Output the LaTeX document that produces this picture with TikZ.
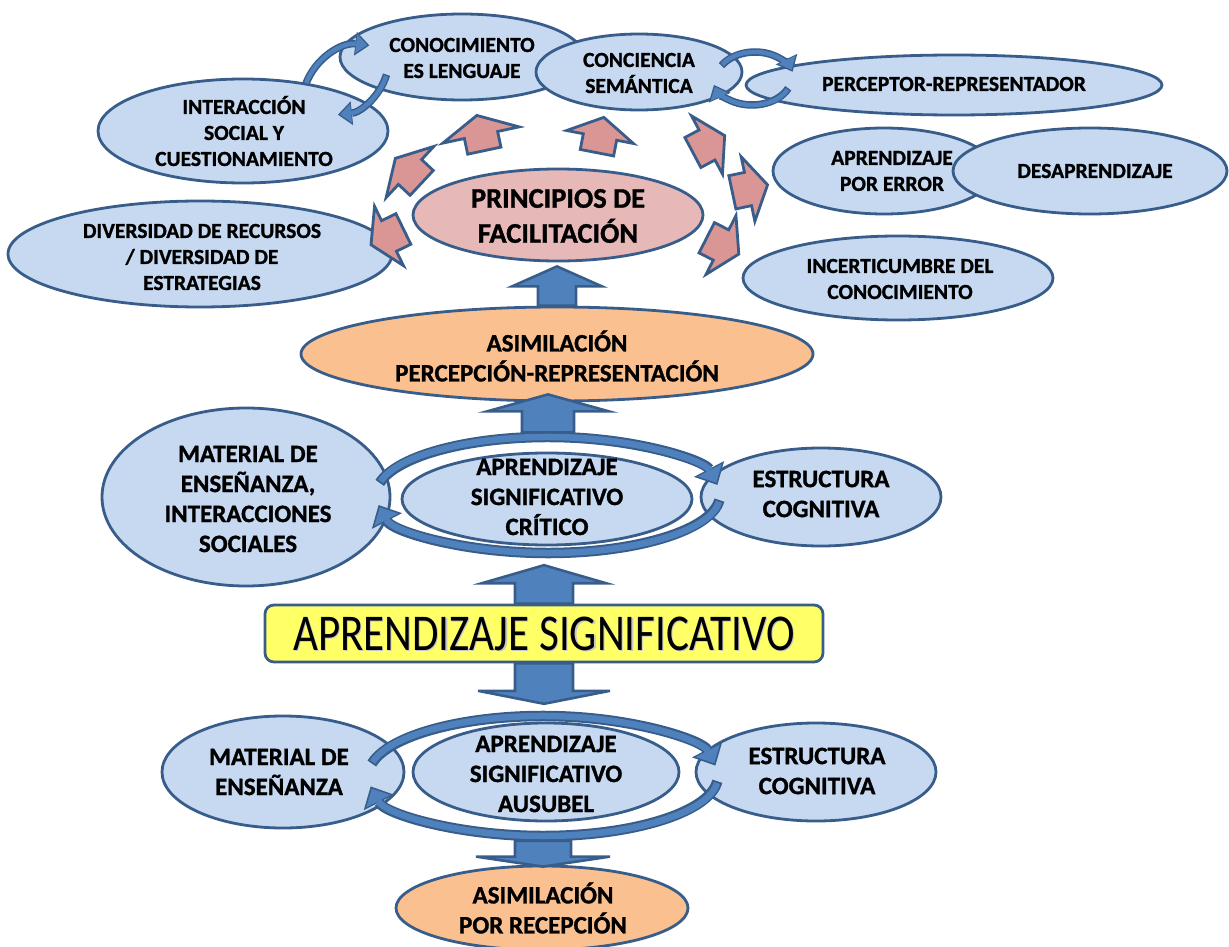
\documentclass[tikz,border=0pt]{standalone}
\usepackage{fontspec}
\setmainfont{Carlito}[BoldFeatures={FakeBold=1.2}]
\usetikzlibrary{shapes.geometric,arrows.meta,calc}

\definecolor{bline}{RGB}{56,93,138}
\definecolor{bfill}{RGB}{198,217,241}
\definecolor{ofill}{RGB}{250,192,144}
\definecolor{pfill}{RGB}{230,185,184}
\definecolor{parr}{RGB}{217,150,148}
\definecolor{yfill}{RGB}{255,255,102}
\definecolor{barr}{RGB}{79,129,189}

% ribbon-style curved arrows: dark outer stroke, lighter inner stroke
\newcommand\ribbonL[1]{%
  \draw[draw=bline,line width=10.5pt,-{Triangle[length=18pt,width=34pt,line width=0pt]}] #1;
  \draw[draw=barr,line width=6.5pt,shorten >=2.6pt,shorten <=1.8pt,-{Triangle[length=14pt,width=27pt,line width=0pt]}] #1;}
\newcommand\ribbonS[1]{%
  \draw[draw=bline,line width=7.5pt,-{Triangle[length=14pt,width=24pt,line width=0pt]}] #1;
  \draw[draw=barr,line width=4.4pt,shorten >=2.2pt,shorten <=1.5pt,-{Triangle[length=11pt,width=19pt,line width=0pt]}] #1;}

% block arrows between two nodes: shaft half width, head half width, head length, tip offset
\newcommand\blkup[6]{%
  \draw[blkarr] let \p1=(#1.north), \p2=(#2.south), \n1={\y2+(#6)}, \n2={\y2+(#6)-#5} in
    ({\x1-#3},\y1) -- ({\x1-#3},\n2) -- ({\x1-#4},\n2) -- (\x1,\n1)
    -- ({\x1+#4},\n2) -- ({\x1+#3},\n2) -- ({\x1+#3},\y1) -- cycle;}
\newcommand\blkdown[6]{%
  \draw[blkarr] let \p1=(#1.south), \p2=(#2.north), \n1={\y2+(#6)}, \n2={\y2+(#6)+#5} in
    ({\x1-#3},\y1) -- ({\x1-#3},\n2) -- ({\x1-#4},\n2) -- (\x1,\n1)
    -- ({\x1+#4},\n2) -- ({\x1+#3},\n2) -- ({\x1+#3},\y1) -- cycle;}

\begin{document}
\begin{tikzpicture}[x=1pt,y=-1pt,
  bub/.style={ellipse,draw=bline,line width=2.8pt,fill=bfill,inner sep=0pt},
  obub/.style={bub,fill=ofill},
  pbub/.style={bub,fill=pfill},
  stxt/.style={align=center,inner sep=0pt,font=\fontsize{21.5}{26}\selectfont\bfseries},
  btxt/.style={align=center,inner sep=0pt,font=\fontsize{25}{30}\selectfont\bfseries},
  ptxt/.style={align=center,inner sep=0pt,font=\fontsize{28.5}{35}\selectfont\bfseries},
  ring/.style={ellipse,inner sep=0pt},
  blkarr/.style={draw=bline,line width=2.6pt,fill=barr,line join=miter},
  pinkline/.style={draw=bline,line width=2.8pt,fill=parr,line join=miter},
  pics/pinkarrow/.style={code={%
    \draw[pinkline] (-16,-17) -- (0,-17) -- (0,-#1) -- (20,0) -- (0,#1) -- (0,17) -- (-16,17) -- cycle;}}
]
\useasboundingbox (0,0) rectangle (1229,947);

% ---- principles of facilitation and their satellites ----
\node[bub,minimum width=244pt,minimum height=86pt] (conoc) at (462,57) {};
\node[stxt] at (462,58) {CONOCIMIENTO\\ES LENGUAJE};
\node[bub,minimum width=416pt,minimum height=60pt] (percep) at (954,85) {};
\node[stxt] at (954,84) {PERCEPTOR-REPRESENTADOR};
\node[bub,minimum width=206pt,minimum height=76pt] (conci) at (639,72) {};
\node[stxt] at (639,73) {CONCIENCIA\\SEMÁNTICA};
\node[bub,minimum width=290pt,minimum height=104pt] (inter) at (243,131) {};
\node[stxt] at (244,131) {INTERACCIÓN\\SOCIAL Y\\CUESTIONAMIENTO};
\node[bub,minimum width=384pt,minimum height=106pt] (diver) at (200,254) {};
\node[stxt] at (202,257) {DIVERSIDAD DE RECURSOS\\/ DIVERSIDAD DE\\ESTRATEGIAS};
\node[bub,minimum width=222pt,minimum height=86pt] (error) at (884,171) {};
\node[stxt] at (892,171) {APRENDIZAJE\\POR ERROR};
\node[bub,minimum width=274pt,minimum height=86pt] (desap) at (1090,171) {};
\node[stxt] at (1095,171) {DESAPRENDIZAJE};
\node[bub,minimum width=310pt,minimum height=84pt] (incert) at (898,278) {};
\node[stxt] at (900,279) {INCERTICUMBRE DEL\\CONOCIMIENTO};
\node[pbub,minimum width=290pt,minimum height=92pt] (princ) at (558,215) {};
\node[ptxt] at (558,216) {PRINCIPIOS DE\\FACILITACIÓN};

% curved exchange arrows at the top
\coordinate (cA) at (362,105);
\coordinate (cB) at (332,58);
\coordinate (cC) at (755,82);
\coordinate (cD) at (752,76);
\ribbonS{(cA) ++(200:60) arc[start angle=200,end angle=277,radius=60]}
\ribbonS{(cB) ++(17:57) arc[start angle=17,end angle=84,radius=57]}
\ribbonS{(cC) ++(213:40 and 30) arc[start angle=213,end angle=340,x radius=40,y radius=30]}
\ribbonS{(cD) ++(25:40 and 29) arc[start angle=25,end angle=162,x radius=40,y radius=29]}

% radiating arrows around the principles
\pic[rotate=206] at (389,236) {pinkarrow=33};
\pic[rotate=137] at (410,172) {pinkarrow=35};
\pic[rotate=102] at (481,135) {pinkarrow=39};
\pic[rotate=79]  at (600,137) {pinkarrow=34};
\pic[rotate=28]  at (707,145) {pinkarrow=33};
\pic[rotate=12]  at (748,189) {pinkarrow=33};
\pic[rotate=-27] at (721,245) {pinkarrow=33};

% ---- assimilation by perception-representation ----
\node[obub,minimum width=512pt,minimum height=94pt] (asimPR) at (557,354) {};
\node[btxt] at (557,356) {ASIMILACIÓN\\PERCEPCIÓN-REPRESENTACIÓN};
\blkup{asimPR}{princ}{19pt}{45pt}{20pt}{-4pt}

% ---- critical meaningful learning ----
\node[bub,minimum width=288pt,minimum height=178pt] (matA) at (246,497) {};
\node[btxt] at (248,499) {MATERIAL DE\\ENSEÑANZA,\\INTERACCIONES\\SOCIALES};
\node[bub,minimum width=240pt,minimum height=98pt] (estA) at (821,497) {};
\node[btxt] at (821,494) {ESTRUCTURA\\COGNITIVA};
\node[bub,minimum width=290pt,minimum height=92pt] (acs) at (547,499) {};
\node[btxt] at (547,497) {APRENDIZAJE\\SIGNIFICATIVO\\CRÍTICO};
\node[ring,minimum width=353pt,minimum height=125pt] (acsring) at (548,495) {};
\blkup{acsring}{asimPR}{26pt}{61pt}{17pt}{8pt}
\ribbonL{(acsring.center) ++(192:172 and 58) arc[start angle=192,end angle=350,x radius=172,y radius=58]}
\ribbonL{(acsring.center) ++(5:172 and 58) arc[start angle=5,end angle=170,x radius=172,y radius=58]}

% ---- meaningful learning ----
\node[draw=bline,line width=2.8pt,fill=yfill,rounded corners=9pt,minimum width=558pt,minimum height=57pt,inner sep=0pt] (box) at (544,633.5) {};
\node[inner sep=0pt,text=black!22,font=\fontsize{43}{50}\selectfont] at ($(box.center)+(1.2,1.2)$) {\scalebox{1}[1.2]{APRENDIZAJE SIGNIFICATIVO}};
\node[inner sep=0pt,font=\fontsize{43}{50}\selectfont] at (box.center) {\scalebox{1}[1.2]{APRENDIZAJE SIGNIFICATIVO}};
\blkup{box}{acsring}{29pt}{62pt}{18pt}{-7.5pt}

% ---- Ausubel's meaningful learning ----
\node[bub,minimum width=242pt,minimum height=112pt] (matB) at (283,772) {};
\node[btxt] at (279,772) {MATERIAL DE\\ENSEÑANZA};
\node[bub,minimum width=240pt,minimum height=98pt] (estB) at (816,772) {};
\node[btxt] at (817,771) {ESTRUCTURA\\COGNITIVA};
\node[bub,minimum width=266pt,minimum height=98pt] (aus) at (546,772) {};
\node[btxt] at (546,774) {APRENDIZAJE\\SIGNIFICATIVO\\AUSUBEL};
\node[ring,minimum width=359pt,minimum height=129pt] (ausring) at (543,776) {};
\blkdown{box}{ausring}{29pt}{66pt}{13pt}{7.5pt}
\ribbonL{(ausring.center) ++(192:175 and 60) arc[start angle=192,end angle=350,x radius=175,y radius=60]}
\ribbonL{(ausring.center) ++(5:175 and 60) arc[start angle=5,end angle=170,x radius=175,y radius=60]}

% ---- assimilation by reception ----
\node[obub,minimum width=292pt,minimum height=84pt] (recep) at (542,908) {};
\node[btxt] at (543,908) {ASIMILACIÓN\\POR RECEPCIÓN};
\blkdown{ausring}{recep}{28pt}{67pt}{10pt}{-2pt}
\end{tikzpicture}
\end{document}
